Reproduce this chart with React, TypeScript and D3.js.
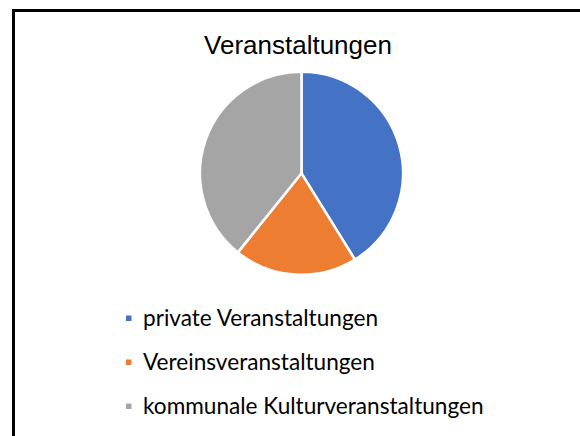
import React from "react";
import * as d3 from "d3";

const categories = ["private Veranstaltungen", "Vereinsveranstaltungen", "kommunale Kulturveranstaltungen"];
const values = [21, 10, 20];
const colors = ["#4472C4", "#ED7D31", "#A5A5A5"];
const title = "Veranstaltungen";

export default function App() {
  const W = 580, H = 436;
  const cx = 301.5, cy = 173.3, r = 101.5;
  const pie = d3.pie<number>().sort(null).value((d) => d);
  const arcs = pie(values);
  const arc = d3.arc<d3.PieArcDatum<number>>().innerRadius(0).outerRadius(r);
  const legendY = d3.scalePoint<string>().domain(categories).range([326, 414]);
  return (
    <svg width={W} height={H} style={{ position: "absolute", left: 0, top: 0, background: "#fff" }}>
      <rect x={0} y={0} width={W} height={H} fill="#fff" />
      <path d={`M13.5,${H + 5} L13.5,10.5 L${W + 5},10.5`} fill="none" stroke="#000" strokeWidth={3} />
      <text x={298} y={53.5} textAnchor="middle" fontFamily="'Liberation Sans', Arial, sans-serif" fontSize={26} fill="#000">
        {title}
      </text>
      <g transform={`translate(${cx},${cy})`}>
        {arcs.map((a, i) => (
          <path key={i} d={arc(a) || ""} fill={colors[i]} stroke="#fff" strokeWidth={2.5} strokeLinejoin="round" />
        ))}
      </g>
      {categories.map((c, i) => {
        const y = legendY(c) as number;
        return (
          <g key={c}>
            <rect x={126} y={y - 10.5} width={5.5} height={5.5} fill={colors[i]} />
            <text x={143} y={y} fontFamily="Lato, 'Open Sans', sans-serif" fontSize={22.6} fill="#000">
              {c}
            </text>
          </g>
        );
      })}
    </svg>
  );
}
